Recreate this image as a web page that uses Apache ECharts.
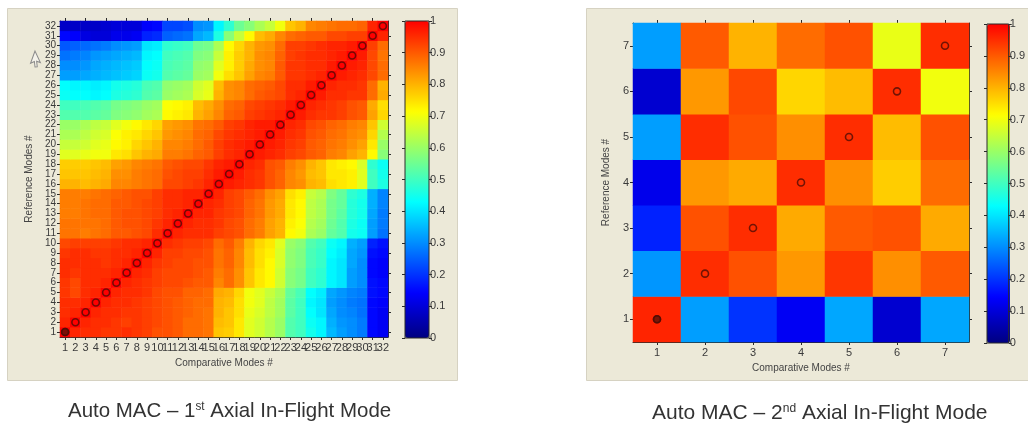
<!DOCTYPE html>
<html>
<head>
<meta charset="utf-8">
<script src="https://cdn.jsdelivr.net/npm/echarts@6/dist/echarts.min.js"></script>
<style>
html, body { margin: 0; padding: 0; background: #ffffff; }
#chart { width: 1028px; height: 426px; }
</style>
</head>
<body>
<div id="chart"></div>
<script>
// Mode numbers for the first axial in-flight mode comparison (32 x 32)
const modesA = ['1','2','3','4','5','6','7','8','9','10','11','12','13','14','15','16',
                '17','18','19','20','21','22','23','24','25','26','27','28','29','30','31','32'];

// MAC values, one row per reference mode (row 1 first), one column per comparative mode
const macA = [
  [1.00,0.96,0.95,0.95,0.94,0.94,0.95,0.94,0.93,0.91,0.91,0.90,0.88,0.88,0.87,0.78,0.77,0.74,0.68,0.66,0.63,0.60,0.52,0.50,0.45,0.42,0.35,0.32,0.30,0.28,0.15,0.13],
  [0.96,1.00,0.96,0.95,0.95,0.94,0.93,0.94,0.93,0.92,0.91,0.90,0.88,0.88,0.87,0.79,0.78,0.74,0.68,0.66,0.63,0.60,0.52,0.50,0.44,0.42,0.34,0.31,0.30,0.28,0.15,0.13],
  [0.95,0.96,1.00,0.96,0.95,0.95,0.94,0.94,0.93,0.92,0.91,0.90,0.89,0.88,0.87,0.80,0.78,0.75,0.69,0.67,0.64,0.61,0.53,0.50,0.43,0.40,0.33,0.30,0.29,0.27,0.15,0.13],
  [0.95,0.95,0.96,1.00,0.96,0.95,0.95,0.94,0.93,0.92,0.91,0.90,0.89,0.88,0.88,0.80,0.79,0.75,0.70,0.68,0.64,0.61,0.53,0.50,0.42,0.40,0.32,0.30,0.28,0.27,0.15,0.14],
  [0.94,0.92,0.95,0.96,1.00,0.96,0.95,0.95,0.94,0.92,0.91,0.91,0.89,0.89,0.88,0.81,0.80,0.76,0.70,0.68,0.65,0.62,0.54,0.51,0.43,0.41,0.33,0.31,0.29,0.28,0.16,0.15],
  [0.94,0.92,0.95,0.95,0.96,1.00,0.96,0.95,0.94,0.93,0.92,0.92,0.91,0.90,0.90,0.85,0.88,0.84,0.78,0.74,0.72,0.66,0.58,0.56,0.50,0.48,0.42,0.40,0.32,0.30,0.16,0.15],
  [0.95,0.94,0.95,0.95,0.95,0.96,1.00,0.96,0.95,0.93,0.92,0.92,0.92,0.91,0.90,0.86,0.88,0.84,0.78,0.74,0.72,0.66,0.58,0.56,0.50,0.48,0.42,0.40,0.32,0.30,0.15,0.14],
  [0.95,0.95,0.95,0.95,0.94,0.95,0.96,1.00,0.96,0.94,0.93,0.92,0.92,0.91,0.91,0.87,0.89,0.85,0.79,0.75,0.72,0.67,0.59,0.57,0.51,0.49,0.42,0.40,0.33,0.30,0.15,0.14],
  [0.94,0.95,0.95,0.94,0.94,0.95,0.95,0.96,1.00,0.96,0.93,0.93,0.92,0.92,0.91,0.87,0.89,0.85,0.79,0.75,0.73,0.67,0.59,0.57,0.51,0.49,0.43,0.41,0.33,0.31,0.16,0.15],
  [0.92,0.93,0.93,0.93,0.93,0.94,0.95,0.95,0.96,1.00,0.95,0.94,0.93,0.93,0.92,0.88,0.90,0.86,0.80,0.76,0.74,0.68,0.60,0.58,0.52,0.50,0.44,0.42,0.34,0.32,0.18,0.16],
  [0.87,0.87,0.86,0.87,0.88,0.90,0.90,0.91,0.92,0.95,1.00,0.96,0.95,0.95,0.95,0.93,0.92,0.91,0.88,0.86,0.82,0.80,0.72,0.70,0.62,0.60,0.54,0.52,0.45,0.44,0.32,0.27],
  [0.87,0.87,0.87,0.87,0.88,0.90,0.91,0.91,0.92,0.94,0.96,1.00,0.96,0.95,0.95,0.94,0.92,0.91,0.88,0.86,0.82,0.80,0.73,0.71,0.63,0.61,0.55,0.52,0.46,0.44,0.32,0.28],
  [0.86,0.86,0.87,0.88,0.88,0.90,0.91,0.91,0.92,0.93,0.95,0.96,1.00,0.96,0.96,0.94,0.93,0.92,0.89,0.87,0.83,0.81,0.74,0.72,0.64,0.62,0.56,0.53,0.47,0.45,0.33,0.28],
  [0.86,0.86,0.87,0.88,0.88,0.90,0.90,0.91,0.92,0.93,0.95,0.95,0.96,1.00,0.96,0.95,0.93,0.92,0.89,0.87,0.83,0.81,0.74,0.72,0.64,0.62,0.56,0.54,0.47,0.45,0.34,0.29],
  [0.86,0.86,0.86,0.87,0.88,0.89,0.90,0.91,0.91,0.93,0.95,0.95,0.96,0.96,1.00,0.96,0.93,0.92,0.90,0.88,0.84,0.82,0.75,0.73,0.65,0.63,0.57,0.54,0.48,0.46,0.34,0.29],
  [0.80,0.80,0.79,0.80,0.81,0.85,0.85,0.86,0.87,0.88,0.92,0.92,0.93,0.94,0.96,1.00,0.97,0.96,0.95,0.94,0.91,0.89,0.85,0.84,0.80,0.79,0.75,0.74,0.73,0.68,0.50,0.46],
  [0.78,0.78,0.78,0.79,0.80,0.84,0.84,0.86,0.87,0.88,0.91,0.92,0.93,0.93,0.95,0.97,1.00,0.97,0.95,0.94,0.91,0.89,0.85,0.83,0.79,0.78,0.74,0.74,0.73,0.68,0.50,0.45],
  [0.77,0.77,0.77,0.78,0.79,0.82,0.83,0.85,0.86,0.87,0.90,0.91,0.92,0.92,0.94,0.96,0.97,1.00,0.96,0.95,0.91,0.90,0.86,0.84,0.80,0.78,0.74,0.73,0.72,0.67,0.48,0.44],
  [0.68,0.68,0.69,0.70,0.70,0.74,0.75,0.78,0.80,0.81,0.86,0.86,0.87,0.89,0.90,0.93,0.95,0.96,1.00,0.97,0.96,0.95,0.93,0.92,0.90,0.89,0.86,0.85,0.82,0.80,0.72,0.58],
  [0.65,0.65,0.66,0.68,0.69,0.72,0.73,0.76,0.78,0.80,0.85,0.85,0.86,0.88,0.90,0.93,0.95,0.96,0.97,1.00,0.97,0.96,0.94,0.93,0.90,0.89,0.87,0.86,0.84,0.82,0.74,0.60],
  [0.62,0.62,0.64,0.66,0.67,0.71,0.73,0.74,0.76,0.78,0.83,0.84,0.85,0.88,0.89,0.92,0.94,0.95,0.96,0.97,1.00,0.97,0.95,0.94,0.91,0.90,0.88,0.87,0.85,0.84,0.76,0.63],
  [0.60,0.60,0.62,0.64,0.65,0.68,0.70,0.72,0.74,0.76,0.82,0.83,0.84,0.87,0.88,0.90,0.93,0.94,0.96,0.97,0.97,1.00,0.96,0.95,0.92,0.91,0.89,0.88,0.86,0.85,0.78,0.66],
  [0.52,0.52,0.52,0.53,0.54,0.57,0.58,0.59,0.61,0.62,0.72,0.73,0.74,0.80,0.82,0.85,0.89,0.90,0.93,0.94,0.95,0.96,1.00,0.97,0.95,0.94,0.94,0.93,0.91,0.90,0.82,0.76],
  [0.50,0.50,0.51,0.52,0.53,0.56,0.57,0.58,0.60,0.61,0.71,0.72,0.73,0.79,0.81,0.84,0.88,0.89,0.92,0.93,0.94,0.95,0.97,1.00,0.96,0.95,0.94,0.93,0.91,0.90,0.81,0.75],
  [0.44,0.43,0.43,0.42,0.43,0.46,0.47,0.48,0.52,0.53,0.60,0.61,0.62,0.67,0.69,0.80,0.84,0.85,0.88,0.90,0.91,0.92,0.95,0.96,1.00,0.97,0.95,0.95,0.94,0.94,0.88,0.81],
  [0.43,0.42,0.42,0.41,0.42,0.45,0.46,0.47,0.51,0.52,0.59,0.60,0.61,0.66,0.68,0.79,0.84,0.85,0.88,0.89,0.90,0.92,0.95,0.95,0.97,1.00,0.96,0.95,0.95,0.94,0.88,0.80],
  [0.32,0.32,0.33,0.34,0.35,0.36,0.37,0.38,0.44,0.45,0.52,0.53,0.54,0.60,0.61,0.70,0.75,0.78,0.82,0.85,0.86,0.90,0.94,0.94,0.95,0.96,1.00,0.97,0.96,0.95,0.92,0.88],
  [0.30,0.30,0.31,0.33,0.34,0.35,0.36,0.37,0.43,0.44,0.51,0.52,0.53,0.59,0.60,0.68,0.73,0.77,0.81,0.84,0.85,0.90,0.94,0.94,0.95,0.95,0.97,1.00,0.97,0.96,0.92,0.88],
  [0.27,0.28,0.29,0.31,0.32,0.33,0.34,0.35,0.42,0.43,0.50,0.51,0.52,0.57,0.58,0.65,0.73,0.77,0.80,0.84,0.85,0.89,0.93,0.94,0.95,0.95,0.96,0.97,1.00,0.97,0.92,0.87],
  [0.24,0.25,0.26,0.27,0.28,0.30,0.31,0.32,0.40,0.41,0.48,0.49,0.50,0.55,0.56,0.62,0.72,0.76,0.80,0.83,0.84,0.88,0.93,0.93,0.94,0.95,0.96,0.96,0.97,1.00,0.93,0.88],
  [0.15,0.14,0.11,0.10,0.10,0.12,0.12,0.13,0.18,0.19,0.25,0.26,0.27,0.33,0.35,0.46,0.58,0.65,0.72,0.79,0.81,0.85,0.88,0.89,0.90,0.90,0.92,0.92,0.93,0.93,1.00,0.96],
  [0.08,0.08,0.08,0.08,0.09,0.10,0.10,0.10,0.14,0.15,0.22,0.22,0.23,0.30,0.31,0.42,0.48,0.55,0.58,0.62,0.65,0.70,0.78,0.80,0.85,0.86,0.87,0.88,0.88,0.89,0.96,1.00]
];

// Mode numbers for the second axial in-flight mode comparison (7 x 7)
const modesB = ['1','2','3','4','5','6','7'];

// MAC values, one row per reference mode (row 1 first)
const macB = [
  [0.96,0.32,0.20,0.13,0.33,0.09,0.33],
  [0.31,0.95,0.91,0.83,0.94,0.84,0.90],
  [0.18,0.91,0.95,0.81,0.90,0.91,0.81],
  [0.12,0.83,0.81,0.95,0.84,0.77,0.88],
  [0.32,0.95,0.91,0.84,0.95,0.79,0.91],
  [0.09,0.83,0.92,0.76,0.79,0.95,0.70],
  [0.32,0.90,0.80,0.88,0.91,0.69,0.95]
];

// Colour scale range and tick step
const scaleMin = 0;
const scaleMax = 1;
const scaleStep = 0.1;

const captionA = ['Auto MAC \u2013 1', 'st', ' Axial In-Flight Mode'];
const captionB = ['Auto MAC \u2013 2', 'nd', ' Axial In-Flight Mode'];

// Jet-like colormap running from navy through cyan and yellow to red
const jet = ['#000080', '#0000ff', '#0080ff', '#00ffff', '#80ff80', '#ffff00', '#ff8000', '#ff0000'];

const axisInk = '#2a2a2a';
const textInk = '#3a3a3a';
const font = 'Liberation Sans, Arial, sans-serif';

function cells(matrix) {
  const out = [];
  matrix.forEach((row, r) => row.forEach((v, c) => out.push([c, r, v])));
  return out;
}

function diagonal(cats) {
  return cats.map((m) => [m, m]);
}

function boxAxes(grid, cats, xFont, yFont, xNameGap, yNameGap) {
  const tick = { show: true, alignWithLabel: true, length: 3, inside: false, lineStyle: { color: axisInk, width: 1 } };
  const line = { show: true, lineStyle: { color: axisInk, width: 1 } };
  const nameStyle = { fontFamily: font, fontSize: 10, color: '#444' };
  const x = [
    { type: 'category', gridIndex: grid, data: cats, position: 'bottom', axisLine: line, axisTick: tick,
      axisLabel: { interval: 0, fontFamily: font, fontSize: xFont, color: textInk, margin: 5 },
      splitLine: { show: false }, name: 'Comparative Modes #', nameLocation: 'middle', nameGap: xNameGap, nameTextStyle: nameStyle },
    { type: 'category', gridIndex: grid, data: cats, position: 'top', axisLine: line, axisTick: tick,
      axisLabel: { show: false }, splitLine: { show: false } }
  ];
  const y = [
    { type: 'category', gridIndex: grid, data: cats, position: 'left', axisLine: line, axisTick: tick,
      axisLabel: { interval: 0, fontFamily: font, fontSize: yFont, color: textInk, margin: 4 },
      splitLine: { show: false }, name: 'Reference Modes #', nameLocation: 'middle', nameRotate: 90, nameGap: yNameGap, nameTextStyle: nameStyle },
    { type: 'category', gridIndex: grid, data: cats, position: 'right', axisLine: line, axisTick: tick,
      axisLabel: { show: false }, splitLine: { show: false } }
  ];
  return { x, y };
}

function barAxes(grid) {
  const tick = { show: true, length: 3, inside: false, lineStyle: { color: axisInk, width: 1 } };
  const x = [{ type: 'value', gridIndex: grid, min: 0, max: 1, show: false }];
  const y = [
    { type: 'value', gridIndex: grid, position: 'left', min: scaleMin, max: scaleMax, interval: scaleStep, z: 10,
      axisLine: { show: false }, axisTick: tick, axisLabel: { show: false }, splitLine: { show: false } },
    { type: 'value', gridIndex: grid, position: 'right', min: scaleMin, max: scaleMax, interval: scaleStep, z: 10,
      axisLine: { show: false }, axisTick: tick,
      axisLabel: { fontFamily: font, fontSize: 11, color: textInk, margin: 1 }, splitLine: { show: false } }
  ];
  return { x, y };
}

function caption(parts, x, y, sx) {
  return {
    type: 'text', x: x, y: y, scaleX: sx, z: 10,
    style: {
      text: '{a|' + parts[0] + '}{s|' + parts[1] + '}{a|' + parts[2] + '}',
      align: 'left', verticalAlign: 'middle',
      rich: {
        a: { fontFamily: font, fontSize: 21, fill: '#333' },
        s: { fontFamily: font, fontSize: 12, fill: '#333', verticalAlign: 'top' }
      }
    }
  };
}

const axA = boxAxes(0, modesA, 11, 10, 20, 26);
const axB = boxAxes(1, modesB, 11, 11, 19, 22);
const cbA = barAxes(2);
const cbB = barAxes(3);

const ringStyle = { color: 'rgba(0,0,0,0)', borderColor: '#4e0d05', borderWidth: 1.6 };

const chart = echarts.init(document.getElementById('chart'), null, { renderer: 'canvas' });

chart.setOption({
  backgroundColor: '#ffffff',
  animation: false,
  graphic: [
    { type: 'rect', left: 7, top: 8, shape: { width: 450, height: 372 }, z: -10,
      style: { fill: '#ece9d8', stroke: '#d6d2c2', lineWidth: 1 } },
    { type: 'rect', left: 586, top: 8, shape: { width: 450, height: 372 }, z: -10,
      style: { fill: '#ece9d8', stroke: '#d6d2c2', lineWidth: 1 } },
    // mouse pointer resting beside the upper row labels
    { type: 'polygon', x: 35, y: 51, rotation: -0.35, z: 10,
      shape: { points: [[0, 0], [0, 13], [3, 10], [5.5, 15], [7.5, 14], [5, 9], [9, 9]] },
      style: { fill: '#f4f2ea', stroke: '#8a8a8a', lineWidth: 1 } },
    caption(captionA, 68, 411, 0.975),
    caption(captionB, 652, 413, 1.0)
  ],
  grid: [
    { left: 60, top: 21, width: 328, height: 316 },
    { left: 633, top: 23, width: 336, height: 319 },
    { left: 405, top: 21, width: 24, height: 317, show: true, z: 10, backgroundColor: 'rgba(0,0,0,0)', borderColor: axisInk, borderWidth: 1 },
    { left: 987, top: 24, width: 23, height: 319, show: true, z: 10, backgroundColor: 'rgba(0,0,0,0)', borderColor: axisInk, borderWidth: 1 }
  ],
  xAxis: [...axA.x, ...axB.x, ...cbA.x, ...cbB.x],
  yAxis: [...axA.y, ...axB.y, ...cbA.y, ...cbB.y],
  visualMap: [
    { type: 'continuous', seriesIndex: 0, min: scaleMin, max: scaleMax, calculable: false, hoverLink: false,
      left: 405, top: 21, itemWidth: 24, itemHeight: 317, padding: 0, inRange: { color: jet } },
    { type: 'continuous', seriesIndex: 2, min: scaleMin, max: scaleMax, calculable: false, hoverLink: false,
      left: 987, top: 24, itemWidth: 23, itemHeight: 319, padding: 0, inRange: { color: jet } }
  ],
  series: [
    { type: 'heatmap', xAxisIndex: 0, yAxisIndex: 0, data: cells(macA), itemStyle: { borderWidth: 0 }, emphasis: { disabled: true } },
    { type: 'scatter', xAxisIndex: 0, yAxisIndex: 0, data: diagonal(modesA), symbol: 'circle', symbolSize: 7, z: 5,
      itemStyle: ringStyle, emphasis: { disabled: true } },
    { type: 'heatmap', xAxisIndex: 2, yAxisIndex: 2, data: cells(macB), itemStyle: { borderWidth: 0 }, emphasis: { disabled: true } },
    { type: 'scatter', xAxisIndex: 2, yAxisIndex: 2, data: diagonal(modesB), symbol: 'circle', symbolSize: 7, z: 5,
      itemStyle: ringStyle, emphasis: { disabled: true } },
    { type: 'scatter', xAxisIndex: 0, yAxisIndex: 0, data: [[modesA[0], modesA[0]]], symbol: 'circle', symbolSize: 7, z: 6,
      itemStyle: { color: '#5a1208', borderColor: '#4e0d05', borderWidth: 1.6 }, emphasis: { disabled: true } },
    { type: 'scatter', xAxisIndex: 2, yAxisIndex: 2, data: [[modesB[0], modesB[0]]], symbol: 'circle', symbolSize: 7, z: 6,
      itemStyle: { color: '#5a1208', borderColor: '#4e0d05', borderWidth: 1.6 }, emphasis: { disabled: true } }
  ]
});
</script>
</body>
</html>
